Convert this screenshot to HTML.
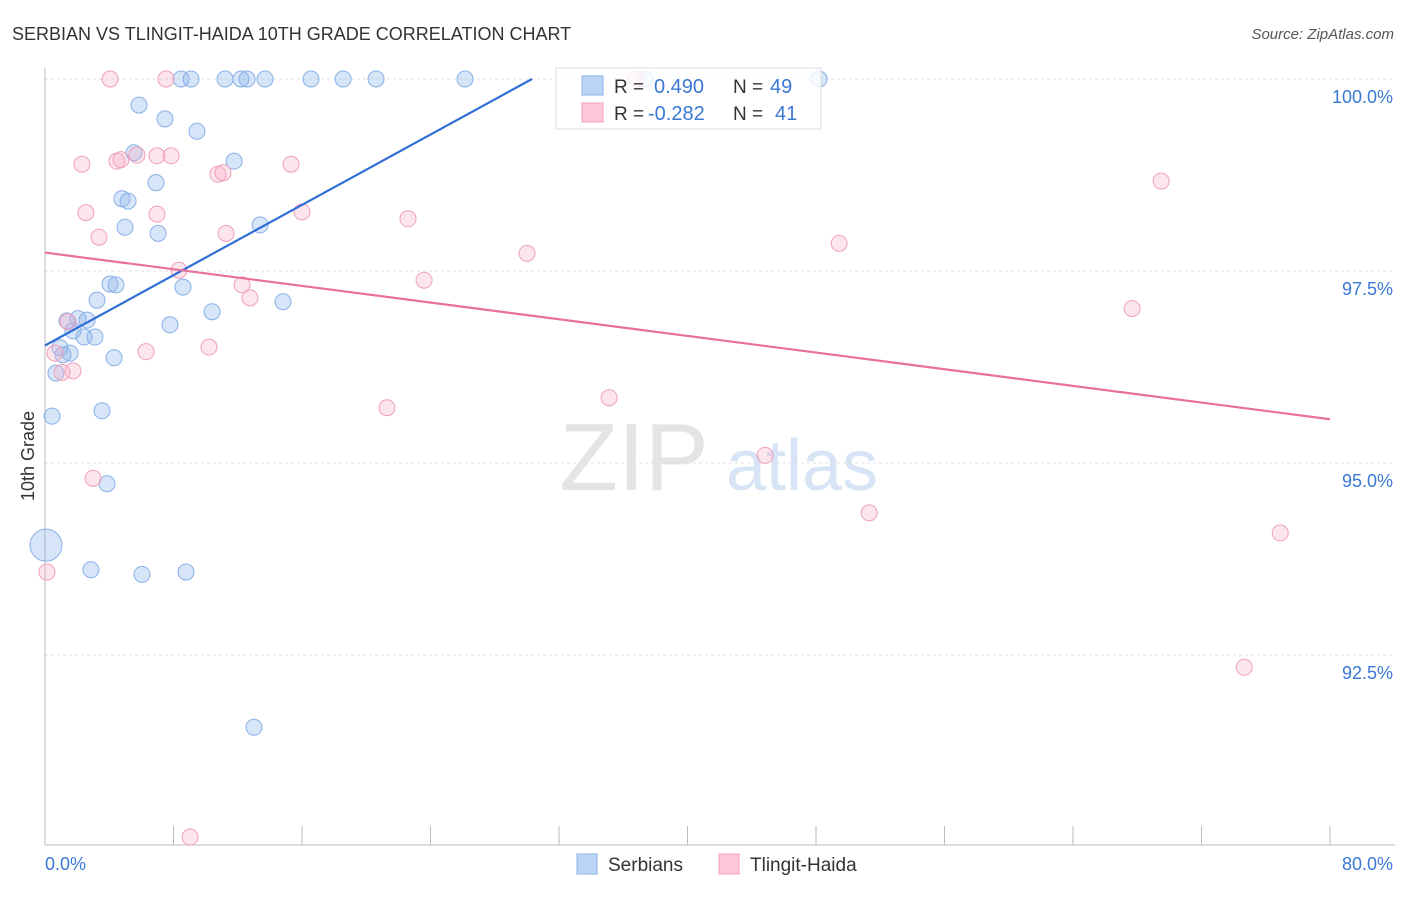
<!DOCTYPE html>
<html><head><meta charset="utf-8"><style>
body{margin:0;background:#fff;font-family:"Liberation Sans",sans-serif;}
svg text{font-family:"Liberation Sans",sans-serif;}
</style></head><body>
<svg id="chart" width="1406" height="892" xmlns="http://www.w3.org/2000/svg">
<text x="12" y="40" font-size="18" fill="#333">SERBIAN VS TLINGIT-HAIDA 10TH GRADE CORRELATION CHART</text>
<text x="1394" y="39" font-size="15" fill="#555" text-anchor="end" font-style="italic">Source: ZipAtlas.com</text>
<text x="634" y="490" font-size="96" fill="#e4e4e4" text-anchor="middle" font-family="Liberation Serif">ZIP</text>
<text x="802" y="490" font-size="72" fill="#d6e4f5" text-anchor="middle">atlas</text>
<text x="34" y="456" font-size="18" fill="#333" text-anchor="middle" transform="rotate(-90 34 456)">10th Grade</text>
<g id="grid"></g><g id="axes"></g><g id="pts"></g><g id="trend"></g>
<g>
<rect x="556" y="68" width="265" height="61" fill="#fff" fill-opacity="0.8" stroke="#ddd"/>
<rect x="582" y="76" width="21" height="19" fill="#bcd4f5" stroke="#8ab0e8"/>
<rect x="582" y="103" width="21" height="19" fill="#fcc8d8" stroke="#f0a0bb"/>
<text x="614" y="93" font-size="19" fill="#333">R = </text><text x="654" y="93" font-size="20" fill="#3a78d6">0.490</text>
<text x="733" y="93" font-size="19" fill="#333">N = </text><text x="770" y="93" font-size="20" fill="#3a78d6">49</text>
<text x="614" y="120" font-size="19" fill="#333">R = </text><text x="648" y="120" font-size="20" fill="#3a78d6">-0.282</text>
<text x="733" y="120" font-size="19" fill="#333">N = </text><text x="775" y="120" font-size="20" fill="#3a78d6">41</text>
</g>
<g>
<rect x="577" y="854" width="20" height="20" fill="#bcd4f5" stroke="#8ab0e8"/>
<text x="608" y="871" font-size="19" fill="#333">Serbians</text>
<rect x="719" y="854" width="20" height="20" fill="#fcc8d8" stroke="#f0a0bb"/>
<text x="750" y="871" font-size="19" fill="#333">Tlingit-Haida</text>
</g>
</svg>
<script>
const yTicks=[100,97.5,95,92.5];
const yTickLabels=["100.0%","97.5%","95.0%","92.5%"];
const xAxisLabels=["0.0%","80.0%"];
const serbX=[8.47,9.09,11.21,12.20,12.58,13.70,16.56,18.56,20.61,26.15,48.19,37.36,5.85,7.47,9.46,11.77,5.54,6.91,4.79,5.17,4.98,7.04,13.39,4.05,4.42,3.24,8.59,10.40,14.82,7.78,1.37,2.05,2.62,1.74,2.43,3.11,0.93,1.56,1.12,4.30,0.68,0.44,3.55,3.86,0.06,2.86,6.04,8.78,13.01];
const serbY=[100,100,100,100,100,100,100,100,100,100,100,100,99.66,99.48,99.32,98.93,99.04,98.65,98.44,98.41,98.07,97.99,98.10,97.33,97.32,97.12,97.29,96.97,97.10,96.80,96.85,96.88,96.86,96.72,96.64,96.64,96.50,96.43,96.41,96.37,96.17,95.61,95.68,94.73,93.93,93.61,93.55,93.58,91.56];
const serbR=[8,8,8,8,8,8,8,8,8,8,8,8,8,8,8,8,8,8,8,8,8,8,8,8,8,8,8,8,8,8,8,8,8,8,8,8,8,8,8,8,8,8,8,8,16,8,8,8,8];
const tlX=[4.05,7.53,36.8,2.30,4.48,4.73,5.73,6.97,7.85,10.77,11.08,15.32,2.55,6.97,16.00,22.60,3.36,11.27,30.01,49.44,69.49,8.34,12.27,12.76,23.60,67.68,1.43,10.21,6.29,0.62,1.06,1.74,21.29,35.12,44.83,2.99,51.31,76.90,0.12,74.66,9.03];
const tlY=[100,100,100,98.89,98.93,98.95,99.01,99.00,99.00,98.76,98.78,98.89,98.26,98.24,98.27,98.18,97.94,97.99,97.73,97.86,98.67,97.51,97.32,97.15,97.38,97.01,96.84,96.51,96.45,96.43,96.18,96.20,95.72,95.85,95.10,94.80,94.35,94.09,93.58,92.34,90.13];
const serbTrend=[[0,96.53],[30.32,100]];
const tlTrend=[[0,97.74],[80,95.57]];
const NS='http://www.w3.org/2000/svg';
const X=v=>45+v*16.0625, Y=v=>79+(100-v)*76.8;
function mk(tag,attrs,parent){const e=document.createElementNS(NS,tag);for(const k in attrs)e.setAttribute(k,attrs[k]);parent.appendChild(e);return e;}
const grid=document.getElementById('grid'),axes=document.getElementById('axes'),pts=document.getElementById('pts'),tr=document.getElementById('trend');
yTicks.forEach((t,i)=>{
 const l=mk('line',{x1:45,x2:1395,y1:Y(t),y2:Y(t),stroke:'#e2e2e2','stroke-dasharray':'3,3'},grid);
 
 
 const tx=mk('text',{x:1393,y:Y(t)+24,'font-size':18,fill:'#3a78d6','text-anchor':'end'},grid);
 tx.textContent=yTickLabels[i];
 
 
});
let a=mk('line',{x1:45,x2:45,y1:68,y2:845,stroke:'#bbb'},axes);


a=mk('line',{x1:45,x2:1395,y1:845,y2:845,stroke:'#bbb'},axes);


for(let v=8;v<=80;v+=8){const tk=mk('line',{x1:X(v),x2:X(v),y1:826,y2:845,stroke:'#bbb'},axes);
 
 }
let t1=mk('text',{x:45,y:870,'font-size':18,fill:'#3a78d6'},axes);t1.textContent=xAxisLabels[0];


let t2=mk('text',{x:1393,y:870,'font-size':18,fill:'#3a78d6','text-anchor':'end'},axes);t2.textContent=xAxisLabels[1];


serbX.forEach((x,i)=>{const c=mk('circle',{cx:X(x),cy:Y(serbY[i]),r:serbR[i],fill:'rgba(140,180,235,0.35)',stroke:'#8ab0e8','stroke-width':1},pts);
 
 });
tlX.forEach((x,i)=>{const c=mk('circle',{cx:X(x),cy:Y(tlY[i]),r:8,fill:'rgba(248,170,195,0.3)',stroke:'#f0a0bb','stroke-width':1},pts);
 
 });
let l1=mk('line',{x1:X(serbTrend[0][0]),y1:Y(serbTrend[0][1]),x2:X(serbTrend[1][0]),y2:Y(serbTrend[1][1]),stroke:'#2f6fd6','stroke-width':2.2},tr);


let l2=mk('line',{x1:X(tlTrend[0][0]),y1:Y(tlTrend[0][1]),x2:X(tlTrend[1][0]),y2:Y(tlTrend[1][1]),stroke:'#e8709a','stroke-width':2.2},tr);


</script>
</body></html>
